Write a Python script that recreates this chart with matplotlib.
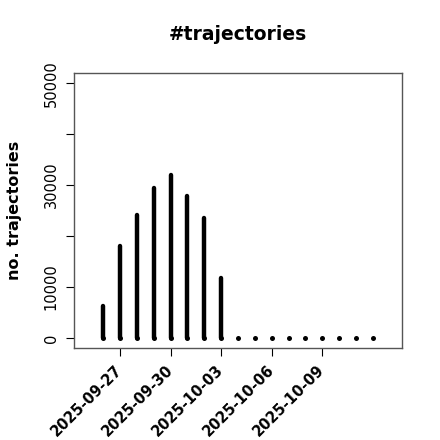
import numpy as np
import matplotlib
matplotlib.use("Agg")
import matplotlib.pyplot as plt

# daily counts, 2025-09-26 .. 2025-10-12
days = np.arange(np.datetime64('2025-09-26'), np.datetime64('2025-10-13'))
counts = [6300, 18100, 24100, 29400, 31900, 27900, 23600, 11800,
          0, 0, 0, 0, 0, 0, 0, 0, 0]
tick_days = ['2025-09-27', '2025-09-30', '2025-10-03', '2025-10-06', '2025-10-09']
yticks = [0, 10000, 20000, 30000, 40000, 50000]
ylabels = ['0', '10000', '', '30000', '', '50000']

plt.rcParams['font.family'] = 'DejaVu Sans'
fig = plt.figure(figsize=(4.4, 4.4), dpi=100)
ax = fig.add_axes([74/440, 1-348/440, 328/440, 275/440])

x = (days - days[0]).astype(int)
ax.vlines(x, 0, counts, colors='black', linewidth=3.2, capstyle='round')
ax.plot(x, np.zeros(len(x)), 'o', color='black', markersize=3.6, markeredgewidth=0)

ax.set_xlim(-1.72, 17.72)
ax.set_ylim(-2000, 52000)

tick_pos = [(np.datetime64(d) - days[0]).astype(int) for d in tick_days]
ax.set_xticks(tick_pos)
ax.set_xticklabels(tick_days, rotation=45, ha='right', va='center',
                   rotation_mode='anchor', fontweight='bold', fontsize=10.5)
ax.set_yticks(yticks)
ax.set_yticklabels(ylabels, rotation=90, va='center', fontsize=10.5)
ax.tick_params(direction='out', length=6, width=0.8, color='black')
ax.tick_params(axis='x', pad=8)
ax.tick_params(axis='y', pad=5)

for s in ax.spines.values():
    s.set_color('#555555')
    s.set_linewidth(1)

ax.set_title('#trajectories', fontweight='bold', fontsize=13.5, pad=24)
ax.set_ylabel('no. trajectories', fontweight='bold', fontsize=11.5, labelpad=16)

fig.savefig('out.png', dpi=100)
